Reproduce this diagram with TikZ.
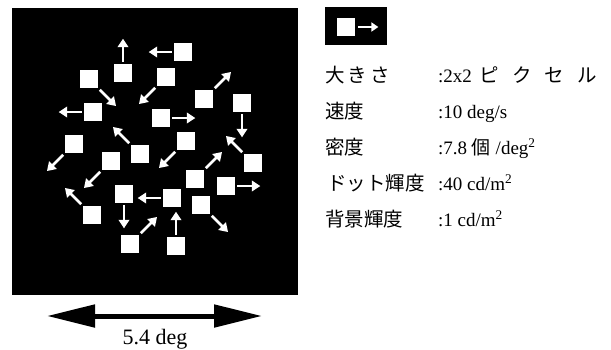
\documentclass[tikz,border=0pt]{standalone}
\usepackage{fontspec}
\setmainfont{Liberation Serif}
\newfontfamily\jp{Noto Sans CJK JP}
\usetikzlibrary{arrows.meta}
\begin{document}
\begin{tikzpicture}[x=1pt,y=-1pt,
  dot/.style={fill=white,draw=none,inner sep=0pt,minimum size=18.3pt},
  warrow/.style={draw=white,line width=2.8pt,-{Triangle[length=8.5pt,width=10.5pt]}},
  iarrow/.style={draw=white,line width=2.2pt,-{Triangle[length=7pt,width=9pt]}},
  lab/.style={inner sep=0pt,anchor=base west,font=\jp\fontsize{19.5}{23}\selectfont},
  val/.style={inner sep=0pt,anchor=base west,font=\fontsize{19}{23}\selectfont},
  dbl/.style={line width=5pt,{Triangle[length=48pt,width=22pt]}-{Triangle[length=48pt,width=22pt]}}]
\useasboundingbox (0,0) rectangle (611,349);
% stimulus field
\fill[black] (12,8) rectangle (298,295);
\foreach \n/\x/\y/\a in {
  1/183/52/180, 2/123/73/90, 3/89/79/315, 4/166/77/225, 5/204/99/45,
  6/242/103/270, 7/93/112/180, 8/161/118/0, 9/74/144/225, 10/140/154/135,
  11/186/141/225, 12/253/163/135, 13/111/161/225, 14/195/179/45, 15/226/186/0,
  16/124/194/270, 17/172/198/180, 18/92/215/135, 19/201/205/315, 20/130/244/45,
  21/176/246/90} {
  \node[dot] (s\n) at (\x,\y) {};
  \draw[warrow] ([shift={(\a:2pt)}]s\n.\a) -- ++(\a:23pt);
}
% icon
\fill[black] (325,7) rectangle (387,45);
\node[dot] (icsq) at (346,27) {};
\draw[iarrow] ([xshift=3pt]icsq.east) -- ++(20pt,0pt);
% parameter table
\node[lab] (l1) at (325,82) {大\kern3pt き\kern3pt さ};
\node[lab] (l2) at (325,118) {速度};
\node[lab] (l3) at (325,154) {密度};
\node[lab] (l4) at (327,190) {ドット輝度};
\node[lab] (l5) at (325,226) {背景輝度};
\node[val] (v1) at (438,82) {:2x2 {\jp\fontsize{19.5}{22}\selectfont\kern3pt ピ\kern13pt ク\kern13pt セ\kern13pt ル}};
\node[val] (v2) at (438,118) {:10 deg/s};
\node[val] (v3) at (438,154) {:7.8 {\jp\fontsize{19}{22}\selectfont 個} /deg\textsuperscript{2}};
\node[val] (v4) at (438,190) {:40 cd/m\textsuperscript{2}};
\node[val] (v5) at (438,226) {:1 cd/m\textsuperscript{2}};
% scale arrow
\coordinate (dl) at (47,316);
\coordinate (dr) at (262,316);
\draw[dbl] (dl) -- (dr);
\node[inner sep=0pt,anchor=base,font=\fontsize{22}{26}\selectfont] (deg) at (155,344) {5.4 deg};
\end{tikzpicture}
\end{document}
